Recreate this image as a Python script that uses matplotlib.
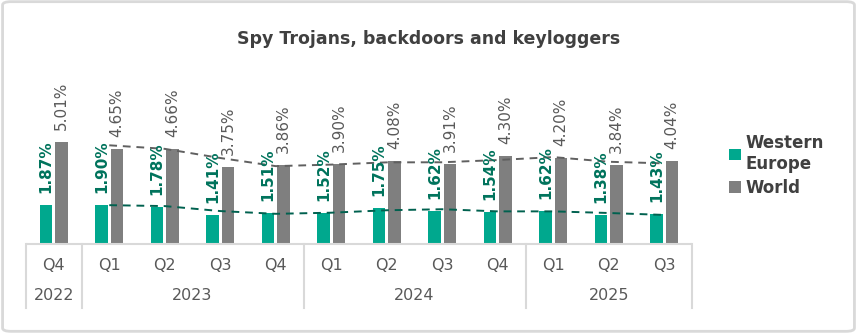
import numpy as np
import matplotlib.pyplot as plt
from matplotlib.patches import FancyBboxPatch

# Data: Q4 2022 .. Q3 2025
quarters = ['Q4', 'Q1', 'Q2', 'Q3', 'Q4', 'Q1', 'Q2', 'Q3', 'Q4', 'Q1', 'Q2', 'Q3']
years = ['2022', '2023', '2024', '2025']
year_spans = [(0, 0), (1, 4), (5, 8), (9, 11)]
western_europe = [1.87, 1.90, 1.78, 1.41, 1.51, 1.52, 1.75, 1.62, 1.54, 1.62, 1.38, 1.43]
world = [5.01, 4.65, 4.66, 3.75, 3.86, 3.90, 4.08, 3.91, 4.30, 4.20, 3.84, 4.04]

# Colours
teal = '#00A88E'
grey = '#7F7F7F'
green_txt = '#00735C'
grey_txt = '#595959'
dark = '#404040'
line_col = '#D9D9D9'

plt.rcParams['font.family'] = ['DejaVu Sans']

fig = plt.figure(figsize=(8.57, 3.33), dpi=100)
W, H = 857, 333

# axes: x from 26 to 692 px, baseline at 243.5 px, 6.0 units = 122 px
ax = fig.add_axes([26 / W, (H - 243.5) / H, 666 / W, 122 / H])
n = len(quarters)
x = np.arange(n)
bw = 0.225
off = 0.137

ax.bar(x - off, western_europe, bw, color=teal, label='Western\nEurope')
ax.bar(x + off, world, bw, color=grey, label='World')

# moving average trendlines (period 2)
we = np.array(western_europe)
wo = np.array(world)
ma_we = (we[1:] + we[:-1]) / 2
ma_wo = (wo[1:] + wo[:-1]) / 2
ax.plot(x[1:], ma_wo, ls=(0, (4, 3)), color='#606060', lw=1.4)
ax.plot(x[1:], ma_we, ls=(0, (4, 3)), color='#00614F', lw=1.4)

# data labels
for i in range(n):
    ax.annotate(f'{western_europe[i]:.2f}%', (x[i] - off, western_europe[i]),
                xytext=(0, 12), textcoords='offset pixels', rotation=90,
                ha='center', va='bottom', fontsize=11, fontweight='bold',
                color=green_txt, annotation_clip=False)
    ax.annotate(f'{world[i]:.2f}%', (x[i] + off, world[i]),
                xytext=(0, 12), textcoords='offset pixels', rotation=90,
                ha='center', va='bottom', fontsize=11, color=grey_txt,
                annotation_clip=False)

ax.set_xlim(-0.5, n - 0.5)
ax.set_ylim(0, 6.0)
ax.axis('off')

# multi-level category axis drawn below the baseline
ax.plot([-0.5, n - 0.5], [0, 0], color=line_col, lw=1.5, clip_on=False,
        solid_capstyle='butt')
trans = ax.get_xaxis_transform()
y_q = -(265 - 243.5) / 122
y_y = -(296 - 243.5) / 122
y_bot = -(308 - 243.5) / 122
for i, q in enumerate(quarters):
    ax.text(i, y_q, q, transform=trans, ha='center', va='center',
            fontsize=11.5, color=grey_txt)
bounds = [-0.5]
for yr, (a, b) in zip(years, year_spans):
    ax.text((a + b) / 2, y_y, yr, transform=trans, ha='center', va='center',
            fontsize=11.5, color=grey_txt)
    bounds.append(b + 0.5)
for bx in bounds:
    ax.plot([bx, bx], [0, y_bot], transform=trans, color=line_col, lw=1.5,
            clip_on=False)

# title
fig.text(429 / W, 1 - 39 / H, 'Spy Trojans, backdoors and keyloggers',
         ha='center', va='center', fontsize=12.5, fontweight='bold', color=dark)

# legend
leg = fig.legend(loc='upper left', bbox_to_anchor=(714 / W, 1 - 119 / H),
                 frameon=False, handlelength=0.7, handleheight=0.7,
                 handletextpad=0.3, labelspacing=0.35,
                 prop={'weight': 'bold', 'size': 12})
for t in leg.get_texts():
    t.set_color(dark)

# outer border
fig.patches.append(FancyBboxPatch((0.003, 0.005), 0.994, 0.99,
                                  boxstyle='round,pad=0,rounding_size=0.01',
                                  transform=fig.transFigure, fill=False,
                                  edgecolor=line_col, lw=2))

fig.savefig('out.png', dpi=100)
